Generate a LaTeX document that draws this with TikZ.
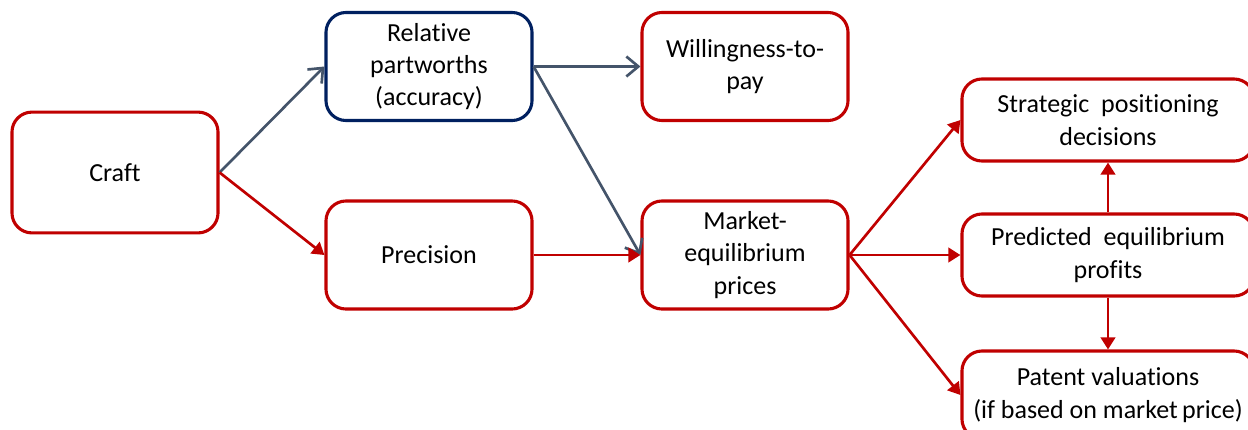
\documentclass[tikz,border=0pt]{standalone}
\usepackage{fontspec}
\setmainfont{Carlito}[Ligatures=NoCommon]
\usetikzlibrary{arrows.meta}
\definecolor{boxred}{HTML}{C00000}
\definecolor{boxnavy}{HTML}{002060}
\definecolor{linkgray}{HTML}{44546A}
\tikzstyle{stage} = [draw=boxred, line width=2.2pt, rounded corners=0.5cm, fill=white, align=center, inner sep=0pt, font=\fontsize{18.5}{23}\selectfont, minimum width=5.15cm, minimum height=2.7cm]
\tikzstyle{outcome} = [stage, minimum width=7.3cm, minimum height=2.05cm]
\tikzstyle{graylink} = [draw=linkgray, line width=1.9pt, -{Straight Barb[length=3mm,width=5mm]}]
\tikzstyle{redlink} = [draw=boxred, line width=1.9pt, -{Triangle[length=3mm,width=3.6mm]}]

\begin{document}
\begin{tikzpicture}[x=0.025cm, y=-0.025cm]

		\useasboundingbox (0,0) rectangle (1248,429);

		\node [stage, minimum height=3.02cm] (craft) at (115,172.5) {Craft};
		\node [stage, draw=boxnavy] (rel) at (429,66.5) {Relative\\partworths\\(accuracy)};
		\node [stage] (prec) at (429,255) {Precision};
		\node [stage] (wtp) at (745,66.5) {Willingness-to-\\pay};
		\node [stage] (mkt) at (745,255) {Market-\\equilibrium\\prices};

		\node [outcome] (strat) at (1108,120) {Strategic\ \ positioning\\decisions};
		\node [outcome] (prof) at (1108,255) {Predicted\ \ equilibrium\\profits};
		\node [outcome, minimum height=2.2cm] (pat) at (1108,395) {Patent valuations\\(if based on market\,price)};

		\draw [graylink] (craft.east) -- (rel.west);
		\draw [redlink] (craft.east) -- (prec.west);
		\draw [graylink] (rel.east) -- (wtp.west);
		\draw [graylink] (rel.east) -- (mkt.west);
		\draw [redlink] (prec.east) -- (mkt.west);

		\draw [redlink] (mkt.east) -- (strat.west);
		\draw [redlink] (mkt.east) -- (prof.west);
		\draw [redlink] (mkt.east) -- (pat.west);
		\draw [redlink] (prof.north) -- (strat.south);
		\draw [redlink] (prof.south) -- (pat.north);

	\end{tikzpicture}
\end{document}
